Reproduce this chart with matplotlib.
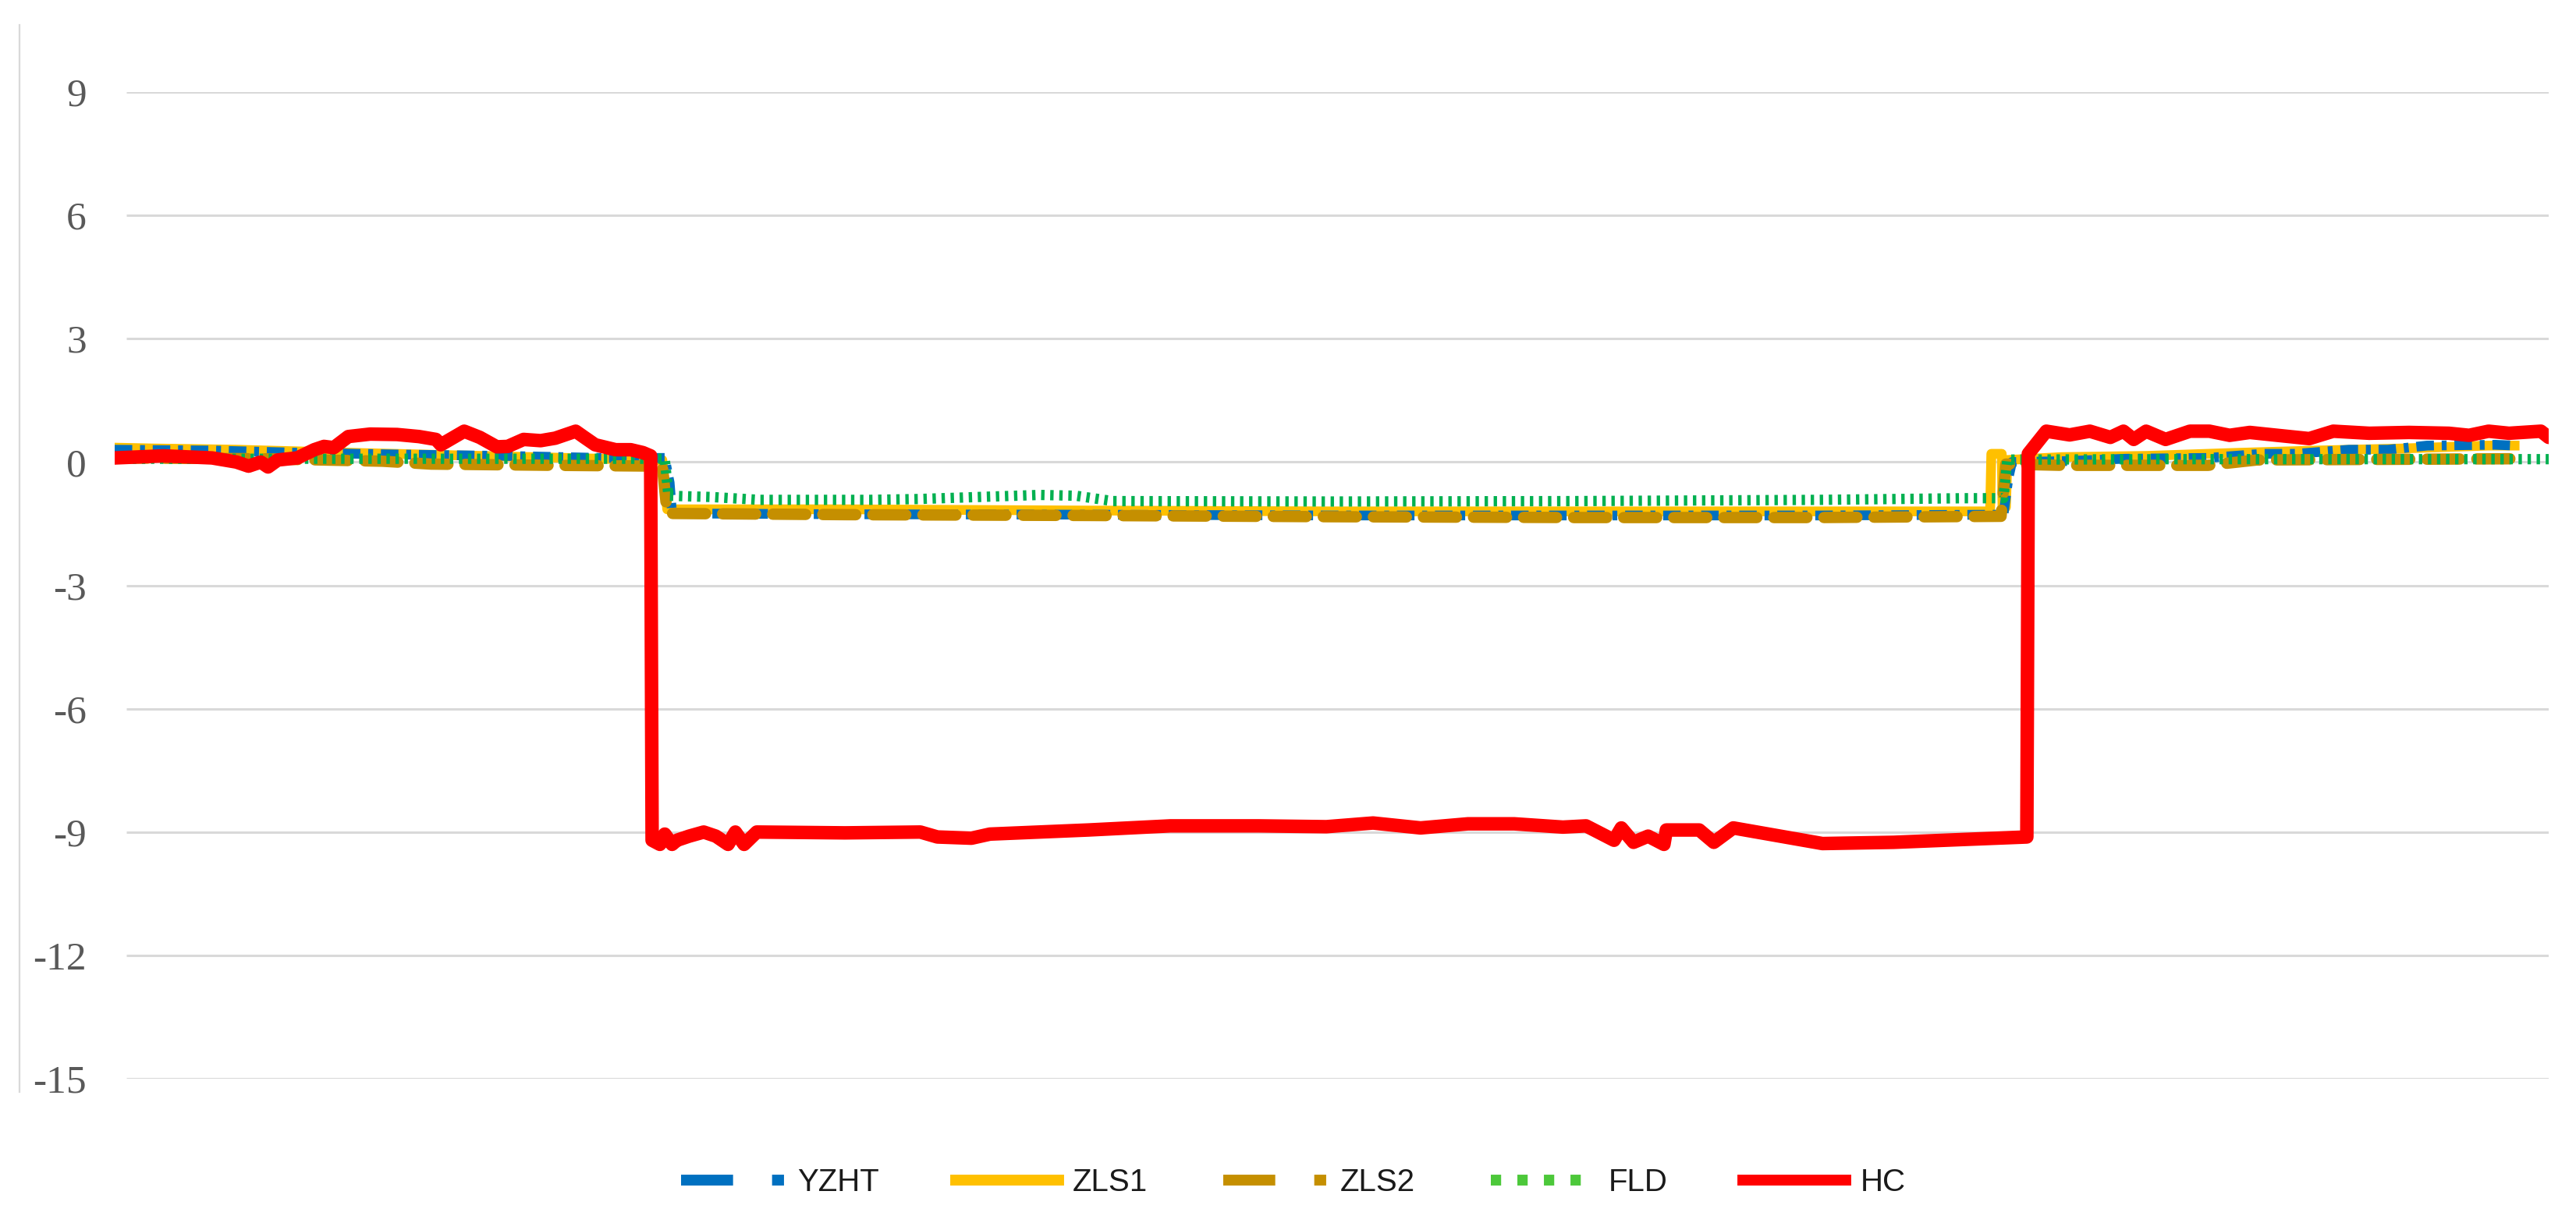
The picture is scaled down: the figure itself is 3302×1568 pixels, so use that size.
import matplotlib
matplotlib.use("Agg")
import matplotlib.pyplot as plt
from matplotlib.lines import Line2D
from matplotlib import font_manager

# sample index (0..1000) along the record
hc_x = [0, 20, 40, 50, 55, 60, 63, 67, 75, 82, 86, 90, 96, 105, 116, 125, 132, 134,
        143.6, 150, 157, 161.5, 168, 175, 181, 189.4, 193, 197.4, 205.8, 212, 217, 220.2,
        220.8, 224, 226, 229, 231, 236, 242, 247, 252, 255, 258.6, 263.8, 300, 331, 338,
        352, 359.6, 400, 433.7, 470, 497.8, 517, 536.5, 556, 575, 595, 604.5, 616, 619,
        624, 630, 636.5, 637.5, 651, 657, 665, 701.6, 730.8, 760, 785.6, 786.2, 793.6,
        803.2, 811.5, 819.9, 825.3, 829.5, 834.6, 842.6, 852.6, 860.6, 868.9, 877.2,
        888.5, 901.6, 911.5, 926.3, 942.6, 959, 967.3, 975.3, 983.7, 996.8, 1000]
hc_y = [0.1, 0.15, 0.1, 0.0, -0.1, 0.0, -0.12, 0.05, 0.1, 0.3, 0.38, 0.35, 0.62, 0.68,
        0.67, 0.62, 0.55, 0.42, 0.75, 0.6, 0.37, 0.38, 0.55, 0.52, 0.58, 0.75, 0.6, 0.42,
        0.3, 0.3, 0.23, 0.15,
        -9.2, -9.3, -9.05, -9.3, -9.2, -9.1, -9.0, -9.1, -9.3, -9.0, -9.3, -9.0, -9.02,
        -9.0, -9.12, -9.15, -9.05, -8.95, -8.85, -8.85, -8.87, -8.78, -8.9, -8.8, -8.8,
        -8.88, -8.85, -9.2, -8.9, -9.25, -9.1, -9.3, -8.95, -8.95, -9.25, -8.9, -9.28,
        -9.25, -9.18, -9.12, 0.2, 0.75,
        0.66, 0.75, 0.6, 0.75, 0.55, 0.75, 0.55, 0.75, 0.75, 0.65, 0.72,
        0.65, 0.57, 0.75, 0.7, 0.72, 0.7, 0.65, 0.75, 0.7, 0.75, 0.6]

yzht_x = [0, 40, 80, 120, 160, 200, 226, 227, 228, 229, 300, 400, 500, 600, 700, 776,
          778, 779.5, 800, 826, 860, 882, 896, 918, 934, 950, 978, 986]
yzht_y = [0.3, 0.28, 0.22, 0.18, 0.15, 0.1, 0.1, -0.2, -0.5, -1.25, -1.27, -1.28, -1.3,
          -1.3, -1.3, -1.28, -0.4, 0.0, 0.02, 0.08, 0.1, 0.2, 0.2, 0.3, 0.3, 0.4, 0.42, 0.4]

zls1_x = [0, 16, 50, 100, 150, 200, 225, 227, 300, 400, 500, 600, 700, 770.5, 771,
          775.3, 775.6, 777, 777.6, 800, 835, 870, 905, 940, 975, 986]
zls1_y = [0.35, 0.33, 0.3, 0.22, 0.15, 0.08, 0.05, -1.15, -1.15, -1.18, -1.2, -1.2, -1.2,
          -1.2, 0.2, 0.2, -1.1, -1.1, 0.05, 0.12, 0.15, 0.22, 0.28, 0.33, 0.4, 0.4]

zls2_x = [0, 60, 110, 130, 180, 225, 227, 300, 400, 500, 600, 700, 775, 777, 800, 860,
          880, 986]
zls2_y = [0.1, 0.08, 0.02, -0.05, -0.08, -0.1, -1.25, -1.28, -1.3, -1.33, -1.35, -1.35,
          -1.32, -0.05, -0.08, -0.08, 0.05, 0.08]

fld_x = [0, 100, 200, 226, 227.5, 245, 265, 310, 330, 380, 395, 410, 500, 600, 700, 760,
         776, 777.6, 850, 1000]
fld_y = [0.08, 0.08, 0.08, 0.08, -0.82, -0.85, -0.92, -0.92, -0.9, -0.8, -0.82, -0.95,
         -0.96, -0.95, -0.92, -0.88, -0.88, 0.06, 0.07, 0.07]

series_names = ["YZHT", "ZLS1", "ZLS2", "FLD", "HC"]
y_ticks = [9, 6, 3, 0, -3, -6, -9, -12, -15]

BLUE, YELLOW, GOLD, GREEN, RED = "#0070C0", "#FFC000", "#C58F00", "#00B050", "#FF0000"
GRID = "#D9D9D9"

# narrow sans for the legend if we have it
names = {f.name for f in font_manager.fontManager.ttflist}
if "Liberation Sans Narrow" in names:
    legend_font, legend_size = "Liberation Sans Narrow", 32
else:
    legend_font, legend_size = "Liberation Sans", 29

fig = plt.figure(figsize=(33.02, 15.68), dpi=100)
ax = fig.add_axes([147 / 3302, 1 - 1383 / 1568, 3120 / 3302, 1265 / 1568])

ax.hlines(y_ticks, 4.8, 1000, color=GRID, lw=2.2, zorder=1)

ax.plot(zls1_x, zls1_y, color=YELLOW, lw=9, solid_joinstyle="round", zorder=2)
ax.plot(yzht_x, yzht_y, color=BLUE, lw=9, dashes=(1.8, 0.8, 0.5, 0.8),
        dash_capstyle="butt", zorder=3)
ax.plot(zls2_x, zls2_y, color=GOLD, lw=10.5, dashes=(2.9, 1.5),
        dash_capstyle="round", zorder=4)
ax.plot(fld_x, fld_y, color=GREEN, lw=9.5, dashes=(0.33, 0.55),
        dash_capstyle="butt", zorder=5)
ax.plot(hc_x, hc_y, color=RED, lw=12.5, solid_joinstyle="round",
        solid_capstyle="round", zorder=6)

ax.set_xlim(0, 1000)
ax.set_ylim(-15, 9)
ax.set_xticks([])
ax.set_yticks(y_ticks)
ax.set_yticklabels([str(t) for t in y_ticks], family="Liberation Serif",
                   fontsize=37, color="#595959")
ax.tick_params(axis="y", length=0, pad=26)
for s in ax.spines.values():
    s.set_visible(False)

# thin chart-area border on the left
fig.add_artist(Line2D([25 / 3302, 25 / 3302], [1 - 32 / 1568, 1 - 1400 / 1568],
                      transform=fig.transFigure, color=GRID, lw=1.6))

# legend proxies use the longer dash patterns seen in the key (handle ~95pt long)
handles = [
    Line2D([], [], color=BLUE, lw=10, dashes=(4.8, 3.6, 1.1, 3.6), dash_capstyle="butt"),
    Line2D([], [], color=YELLOW, lw=10),
    Line2D([], [], color=GOLD, lw=10, dashes=(4.8, 3.6, 1.1, 3.6), dash_capstyle="butt"),
    Line2D([], [], color="#4CC83A", lw=10, dashes=(0.95, 1.5), dash_capstyle="butt"),
    Line2D([], [], color=RED, lw=10),
]
fig.legend(handles, series_names, loc="center", bbox_to_anchor=(0.5020, 1 - 1516 / 1568),
           ncol=5, frameon=False, handlelength=95 / legend_size,
           handletextpad=13 / legend_size, columnspacing=70 / legend_size,
           prop={"family": legend_font, "size": legend_size}, labelcolor="#1a1a1a")

fig.savefig("out.png", dpi=100, facecolor="white")
